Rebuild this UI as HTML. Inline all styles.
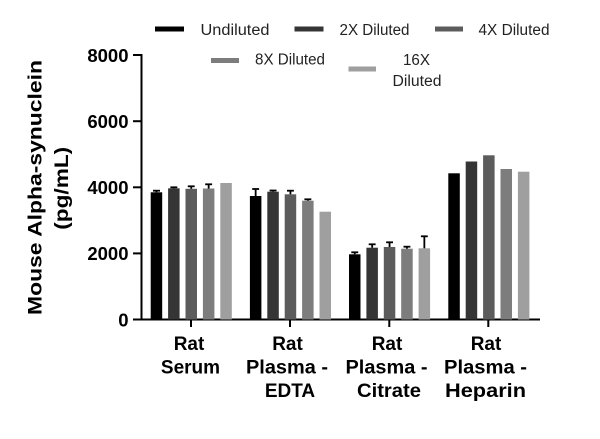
<!DOCTYPE html>
<html><head><meta charset="utf-8"><style>
html,body{margin:0;padding:0;background:#fff;}
svg{display:block;}
</style></head><body>
<svg width="600" height="439" viewBox="0 0 600 439" xmlns="http://www.w3.org/2000/svg" font-family="'Liberation Sans', sans-serif">
<rect width="600" height="439" fill="#fff"/>
<!-- legend -->
<g font-size="15.5" fill="#222">
<rect x="155" y="26.5" width="29" height="5" fill="#000"/>
<text x="200.5" y="35" textLength="69" lengthAdjust="spacingAndGlyphs">Undiluted</text>
<rect x="294.5" y="26.5" width="29" height="5" fill="#353535"/>
<text x="339.5" y="35" textLength="70" lengthAdjust="spacingAndGlyphs">2X Diluted</text>
<rect x="435" y="26.5" width="28" height="5" fill="#5c5c5c"/>
<text x="478.5" y="35" textLength="71" lengthAdjust="spacingAndGlyphs">4X Diluted</text>
<rect x="211" y="58" width="28" height="5" fill="#7d7d7d"/>
<text x="255" y="64.5" textLength="70" lengthAdjust="spacingAndGlyphs">8X Diluted</text>
<rect x="348.5" y="66.5" width="27.5" height="5" fill="#9f9f9f"/>
<text x="403" y="65" textLength="27" lengthAdjust="spacingAndGlyphs">16X</text>
<text x="392.5" y="86" textLength="49" lengthAdjust="spacingAndGlyphs">Diluted</text>
</g>
<!-- y axis label -->
<g font-weight="bold" font-size="19" fill="#000">
<text transform="translate(41.5,187.5) rotate(-90)" text-anchor="middle" textLength="255" lengthAdjust="spacingAndGlyphs">Mouse Alpha-synuclein</text>
<text transform="translate(68,188.3) rotate(-90)" text-anchor="middle" textLength="83" lengthAdjust="spacingAndGlyphs">(pg/mL)</text>
</g>
<!-- axes -->
<g stroke="#000" stroke-width="2" fill="none">
<line x1="141.5" y1="54" x2="141.5" y2="320.5"/>
<line x1="140.5" y1="319.5" x2="540" y2="319.5"/>
<line x1="133" y1="55" x2="141.5" y2="55"/>
<line x1="133" y1="121.2" x2="141.5" y2="121.2"/>
<line x1="133" y1="187.3" x2="141.5" y2="187.3"/>
<line x1="133" y1="253.4" x2="141.5" y2="253.4"/>
<line x1="133" y1="319.5" x2="141.5" y2="319.5"/>
<line x1="191" y1="319.5" x2="191" y2="327"/>
<line x1="290" y1="319.5" x2="290" y2="327"/>
<line x1="389.3" y1="319.5" x2="389.3" y2="327"/>
<line x1="488.3" y1="319.5" x2="488.3" y2="327"/>
</g>
<g font-weight="bold" font-size="18.5" fill="#000" text-anchor="end">
<text x="128.5" y="62">8000</text>
<text x="128.5" y="128">6000</text>
<text x="128.5" y="194">4000</text>
<text x="128.5" y="260">2000</text>
<text x="128.5" y="326.5">0</text>
</g>
<!-- bars -->
<g>
<!-- group 1 -->
<rect x="150.7" y="192.3" width="11.5" height="127.2" fill="#000"/>
<rect x="168.1" y="188.3" width="11.5" height="131.2" fill="#353535"/>
<rect x="185.5" y="188.8" width="11.5" height="130.7" fill="#5c5c5c"/>
<rect x="202.9" y="188.5" width="11.5" height="131" fill="#7d7d7d"/>
<rect x="220.3" y="183" width="11.5" height="136.5" fill="#9f9f9f"/>
<!-- group 2 -->
<rect x="249.9" y="196" width="11.5" height="123.5" fill="#000"/>
<rect x="267.3" y="191.7" width="11.5" height="127.8" fill="#353535"/>
<rect x="284.7" y="194.3" width="11.5" height="125.2" fill="#5c5c5c"/>
<rect x="302.1" y="200.7" width="11.5" height="118.8" fill="#7d7d7d"/>
<rect x="319.5" y="211.7" width="11.5" height="107.8" fill="#9f9f9f"/>
<!-- group 3 -->
<rect x="349" y="254.3" width="11.5" height="65.2" fill="#000"/>
<rect x="366.4" y="247.7" width="11.5" height="71.8" fill="#353535"/>
<rect x="383.8" y="247" width="11.5" height="72.5" fill="#5c5c5c"/>
<rect x="401.2" y="248.7" width="11.5" height="70.8" fill="#7d7d7d"/>
<rect x="418.6" y="248.3" width="11.5" height="71.2" fill="#9f9f9f"/>
<!-- group 4 -->
<rect x="448.3" y="173.3" width="11.5" height="146.2" fill="#000"/>
<rect x="465.7" y="161.5" width="11.5" height="158" fill="#353535"/>
<rect x="483.1" y="155.3" width="11.5" height="164.2" fill="#5c5c5c"/>
<rect x="500.5" y="169" width="11.5" height="150.5" fill="#7d7d7d"/>
<rect x="517.9" y="171.7" width="11.5" height="147.8" fill="#9f9f9f"/>
</g>
<!-- error bars -->
<g stroke="#000" stroke-width="1.8">
<line x1="156.45" y1="192.3" x2="156.45" y2="190.7"/><line x1="153" y1="190.7" x2="160" y2="190.7"/>
<line x1="173.85" y1="188.3" x2="173.85" y2="187.3"/><line x1="170.4" y1="187.3" x2="177.3" y2="187.3"/>
<line x1="191.25" y1="188.8" x2="191.25" y2="186.3"/><line x1="187.8" y1="186.3" x2="194.7" y2="186.3"/>
<line x1="208.65" y1="188.5" x2="208.65" y2="184.3"/><line x1="205.2" y1="184.3" x2="212.1" y2="184.3"/>

<line x1="255.65" y1="196" x2="255.65" y2="189"/><line x1="252.2" y1="189" x2="259.1" y2="189"/>
<line x1="273.05" y1="191.7" x2="273.05" y2="190.5"/><line x1="269.6" y1="190.5" x2="276.5" y2="190.5"/>
<line x1="290.45" y1="194.3" x2="290.45" y2="190.7"/><line x1="287" y1="190.7" x2="293.9" y2="190.7"/>
<line x1="307.85" y1="200.7" x2="307.85" y2="199.3"/><line x1="304.4" y1="199.3" x2="311.3" y2="199.3"/>

<line x1="354.75" y1="254.3" x2="354.75" y2="252.3"/><line x1="351.3" y1="252.3" x2="358.2" y2="252.3"/>
<line x1="372.15" y1="247.7" x2="372.15" y2="244.3"/><line x1="368.7" y1="244.3" x2="375.6" y2="244.3"/>
<line x1="389.55" y1="247" x2="389.55" y2="242.3"/><line x1="386.1" y1="242.3" x2="393" y2="242.3"/>
<line x1="406.95" y1="248.7" x2="406.95" y2="246.7"/><line x1="403.5" y1="246.7" x2="410.4" y2="246.7"/>
<line x1="424.35" y1="248.3" x2="424.35" y2="236.3"/><line x1="420.9" y1="236.3" x2="427.8" y2="236.3"/>
</g>
<!-- category labels -->
<g font-weight="bold" font-size="19" fill="#000" text-anchor="middle">
<text x="189" y="350">Rat</text>
<text x="190.5" y="373.5">Serum</text>
<text x="287.5" y="350">Rat</text>
<text x="287" y="373.5" textLength="82" lengthAdjust="spacingAndGlyphs">Plasma -</text>
<text x="290" y="397">EDTA</text>
<text x="387" y="350">Rat</text>
<text x="386.5" y="373.5" textLength="82" lengthAdjust="spacingAndGlyphs">Plasma -</text>
<text x="389" y="397" textLength="64" lengthAdjust="spacingAndGlyphs">Citrate</text>
<text x="486" y="350">Rat</text>
<text x="485.5" y="373.5" textLength="83" lengthAdjust="spacingAndGlyphs">Plasma -</text>
<text x="485.5" y="397" textLength="81" lengthAdjust="spacingAndGlyphs">Heparin</text>
</g>
</svg>
</body></html>
